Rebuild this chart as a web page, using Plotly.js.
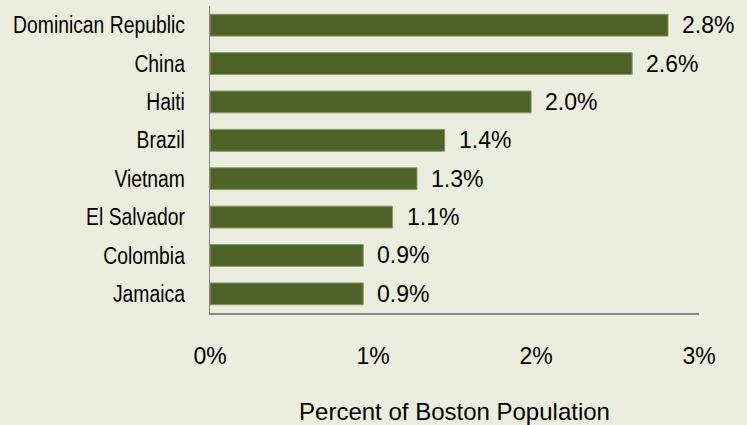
<!DOCTYPE html>
<html>
<head>
<meta charset="utf-8">
<script src="https://cdn.plot.ly/plotly-3.0.1.min.js"></script>
<style>html,body{margin:0;padding:0;background:#EBEEDF;}</style>
</head>
<body>
<div id="chart" style="width:747px;height:425px;"></div>
<script>
const countries = ["Dominican Republic","China","Haiti","Brazil","Vietnam","El Salvador","Colombia","Jamaica"];
const percents = [2.81, 2.59, 1.97, 1.44, 1.27, 1.12, 0.94, 0.94];
const labels = ["2.8%","2.6%","2.0%","1.4%","1.3%","1.1%","0.9%","0.9%"];
const tickVals = [0, 1, 2, 3];
const tickText = ["0%","1%","2%","3%"];
const xTitle = "Percent of Boston Population";

const bg = "#EBEEDF";
const fam = "Liberation Sans, Arial, sans-serif";
const trace = {
  type: "bar",
  orientation: "h",
  x: percents,
  y: countries,
  marker: {color: "#4F6228", line: {color: "#8A9A68", width: 1}},
  hoverinfo: "skip"
};

const annotations = countries.map((c, i) => ({
  x: percents[i], y: c, xref: "x", yref: "y",
  text: labels[i], showarrow: false, xanchor: "left", yanchor: "middle",
  xshift: 12,
  font: {family: fam, size: 23, color: "#000"}
}));

const layout = {
  width: 747, height: 425,
  paper_bgcolor: bg, plot_bgcolor: bg,
  margin: {l: 210, r: 48, t: 6, b: 112},
  bargap: 0.43,
  showlegend: false,
  font: {family: fam, color: "#000"},
  xaxis: {
    range: [0, 3], tickvals: tickVals, ticktext: tickText,
    showgrid: false, zeroline: false,
    showline: true, linecolor: "#868686", linewidth: 1.5,
    ticks: "", ticklabelstandoff: 22,
    tickfont: {size: 23, family: fam},
    title: {text: xTitle, standoff: 36, font: {size: 24, family: fam}},
    fixedrange: true
  },
  yaxis: {
    autorange: "reversed", type: "category",
    showgrid: false, zeroline: false,
    showline: true, linecolor: "#868686", linewidth: 1.5,
    ticks: "", ticklabelstandoff: 19,
    tickfont: {size: 23, family: fam},
    fixedrange: true
  },
  annotations: annotations
};

Plotly.newPlot("chart", [trace], layout, {staticPlot: true, displayModeBar: false}).then(gd => {
  // condense category labels horizontally (reference uses a narrow face)
  gd.querySelectorAll(".ytick text").forEach(t => {
    const w = t.getComputedTextLength();
    t.setAttribute("textLength", (w * 0.84).toFixed(1));
    t.setAttribute("lengthAdjust", "spacingAndGlyphs");
  });
});
</script>
</body>
</html>
